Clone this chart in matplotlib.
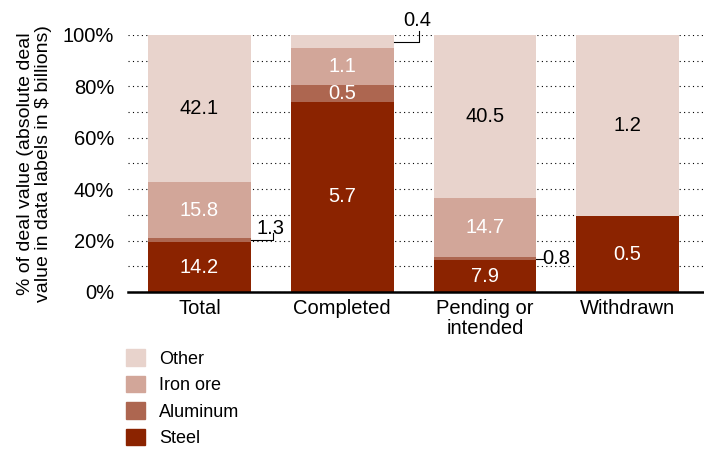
import numpy as np
import matplotlib.pyplot as plt
from matplotlib.patches import Patch

plt.rcParams["font.family"] = ["Liberation Sans", "DejaVu Sans"]

categories = ["Total", "Completed", "Pending or\nintended", "Withdrawn"]
steel = [14.2, 5.7, 7.9, 0.5]
aluminum = [1.3, 0.5, 0.8, 0.0]
iron_ore = [15.8, 1.1, 14.7, 0.0]
other = [42.1, 0.4, 40.5, 1.2]

series = [("Steel", steel, "#8b2300", "white"),
          ("Aluminum", aluminum, "#ad6650", "white"),
          ("Iron ore", iron_ore, "#d2a699", "white"),
          ("Other", other, "#e8d3cc", "black")]

# slices labelled outside the bar with a leader line
outside = {("Aluminum", 0), ("Other", 1), ("Aluminum", 2)}

totals = np.array(steel) + np.array(aluminum) + np.array(iron_ore) + np.array(other)

fs = 14.5
fig = plt.figure(figsize=(7.04, 4.51), dpi=100)
ax = fig.add_axes([0.182, 0.3526, 0.818, 0.5698])

x = np.arange(len(categories))
w = 0.72
bottom = np.zeros(len(categories))
segs = {}
for name, vals, color, tc in series:
    pct = np.array(vals) / totals * 100
    ax.bar(x, pct, w, bottom=bottom, color=color, zorder=2)
    segs[name] = (bottom.copy(), pct)
    for i, v in enumerate(vals):
        if v == 0 or (name, i) in outside:
            continue
        ax.text(x[i], bottom[i] + pct[i] / 2, f"{v:.1f}", ha="center",
                va="center", color=tc, fontsize=fs, zorder=3)
    bottom += pct

# outside labels
b, p = segs["Aluminum"]
ym = b[0] + p[0] / 2
ax.plot([x[0] + w / 2, x[0] + w / 2 + 0.155, x[0] + w / 2 + 0.155],
        [ym, ym, ym + 2.7], color="black", lw=0.8, clip_on=False, zorder=3)
ax.text(x[0] + w / 2 + 0.04, ym + 0.8, "1.3", ha="left", va="bottom",
        fontsize=fs, zorder=3)

b, p = segs["Other"]
ym = b[1] + p[1] / 2
ax.plot([x[1] + w / 2, x[1] + w / 2 + 0.175, x[1] + w / 2 + 0.175],
        [ym, ym, ym + 4.3], color="black", lw=0.8, clip_on=False, zorder=3)
ax.text(x[1] + w / 2 + 0.07, ym + 4.6, "0.4", ha="left", va="bottom",
        fontsize=fs, zorder=3)

b, p = segs["Aluminum"]
ym = b[2] + p[2] / 2
ax.plot([x[2] + w / 2, x[2] + w / 2 + 0.045], [ym, ym], color="black",
        lw=0.8, clip_on=False, zorder=3)
ax.text(x[2] + w / 2 + 0.045, ym, "0.8", ha="left", va="center",
        fontsize=fs, zorder=3)

ax.set_xlim(-0.5, 3.535)
ax.set_ylim(0, 100)
ax.set_yticks(np.arange(0, 101, 20))
ax.set_yticklabels([f"{t}%" for t in range(0, 101, 20)], fontsize=14.5)
ax.set_yticks(np.arange(0, 101, 10), minor=True)
ax.yaxis.grid(True, which="both", linestyle=(0, (1, 3)), color="black",
              lw=0.8, zorder=0)
ax.tick_params(axis="y", which="both", length=0, pad=10)
ax.set_xticks(x)
ax.set_xticklabels(categories, fontsize=14.5, linespacing=1.1)
ax.tick_params(axis="x", length=0, pad=5)
for s in ["left", "right", "top"]:
    ax.spines[s].set_visible(False)
ax.spines["bottom"].set_linewidth(1.8)
ax.spines["bottom"].set_zorder(4)
ax.set_ylabel("% of deal value (absolute deal\nvalue in data labels in $ billions)",
              fontsize=14, labelpad=8, linespacing=1.05)

handles = [Patch(color=c, label=n) for n, _, c, _ in series[::-1]]
fig.legend(handles=handles, loc="upper left", bbox_to_anchor=(0.179, 0.226),
           frameon=False, fontsize=13, handlelength=1.05, handleheight=1.05,
           labelspacing=0.44, handletextpad=0.78, borderpad=0,
           borderaxespad=0)

fig.savefig("out.png", dpi=100)
